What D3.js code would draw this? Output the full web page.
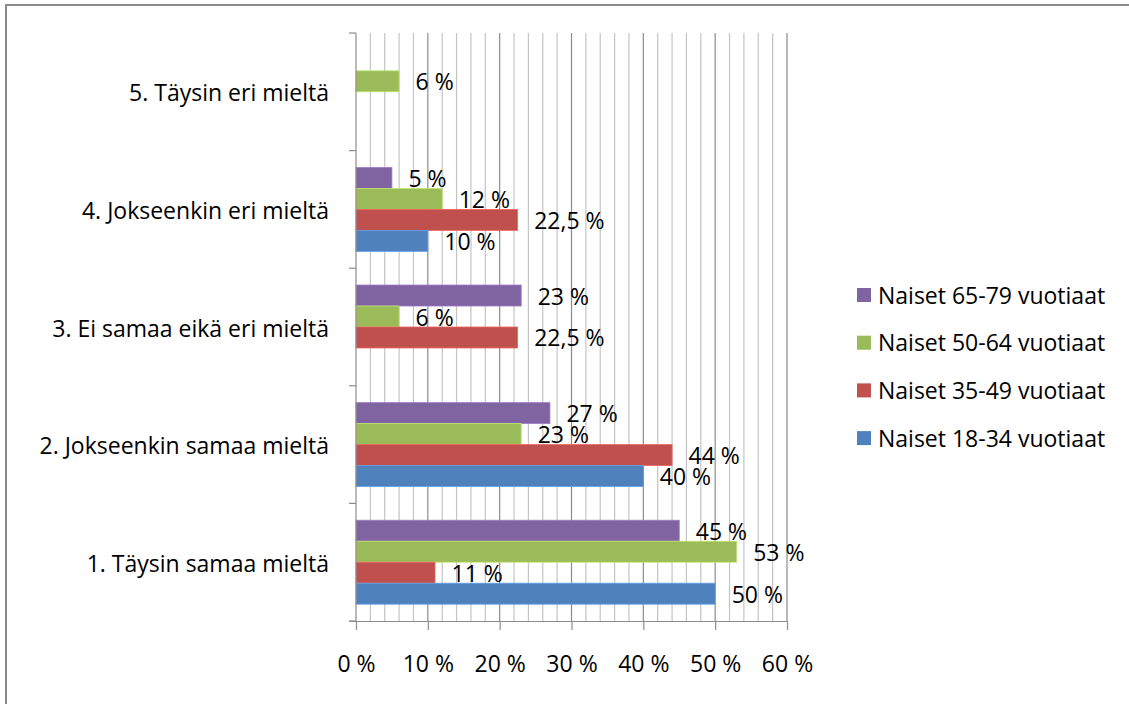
<!DOCTYPE html>
<html>
<head>
<meta charset="utf-8">
<script src="https://cdn.jsdelivr.net/npm/d3@7"></script>
<style>
  html, body { margin: 0; padding: 0; background: #fff; }
  svg { display: block; }
  text { font-family: "Open Sans", Lato, sans-serif; fill: #000; font-variant-ligatures: none; }
</style>
</head>
<body>
<svg id="chart" width="1129" height="704"></svg>
<script>
// Survey answers (top to bottom as drawn: 5 .. 1)
const categories = [
  "5. Täysin eri mieltä",
  "4. Jokseenkin eri mieltä",
  "3. Ei samaa eikä eri mieltä",
  "2. Jokseenkin samaa mieltä",
  "1. Täysin samaa mieltä"
];

// Series names, in legend / bar order (top bar first)
const seriesNames = [
  "Naiset 65-79 vuotiaat",
  "Naiset 50-64 vuotiaat",
  "Naiset 35-49 vuotiaat",
  "Naiset 18-34 vuotiaat"
];

// Percentages per category (same order as categories); null = no answer
const women65_79 = [null, 5, 23, 27, 45];
const women50_64 = [6, 12, 6, 23, 53];
const women35_49 = [null, 22.5, 22.5, 44, 11];
const women18_34 = [null, 10, null, 40, 50];

const xTicks = [0, 10, 20, 30, 40, 50, 60];

const seriesValues = [women65_79, women50_64, women35_49, women18_34];
const colors = ["#8064A2", "#9BBB59", "#C0504D", "#4F81BD"];

const svg = d3.select("#chart");
const fontSize = 23;

// Outer frame
svg.append("rect")
  .attr("x", 6).attr("y", 5)
  .attr("width", 1200).attr("height", 800)
  .attr("fill", "none").attr("stroke", "#8a8a8a").attr("stroke-width", 2);

const plot = { left: 356, right: 787, top: 33, bottom: 621 };

const x = d3.scaleLinear().domain([0, 60]).range([plot.left, plot.right]);
const y = d3.scaleBand().domain(categories).range([plot.top, plot.bottom]);
const bw = y.bandwidth();
const ySub = d3.scaleBand().domain(seriesNames).range([bw * 0.143, bw * 0.857]);

// Minor gridlines every 2 %
const minor = d3.range(2, 61, 2).filter(v => v % 10 !== 0);
svg.append("g").selectAll("line").data(minor).join("line")
  .attr("x1", d => x(d)).attr("x2", d => x(d))
  .attr("y1", plot.top).attr("y2", plot.bottom)
  .attr("stroke", "#c4c4c4").attr("stroke-width", 1.2);

// Major gridlines every 10 %
svg.append("g").selectAll("line").data(xTicks.slice(1)).join("line")
  .attr("x1", d => x(d)).attr("x2", d => x(d))
  .attr("y1", plot.top).attr("y2", plot.bottom)
  .attr("stroke", "#8c8c8c").attr("stroke-width", 1.2);

// Bars
const rows = [];
categories.forEach((c, ci) => {
  seriesNames.forEach((s, si) => {
    const v = seriesValues[si][ci];
    if (v !== null && v !== undefined) rows.push({ cat: c, series: s, value: v, color: colors[si] });
  });
});

svg.append("g").selectAll("rect").data(rows).join("rect")
  .attr("x", x(0))
  .attr("y", d => y(d.cat) + ySub(d.series))
  .attr("width", d => x(d.value) - x(0))
  .attr("height", ySub.bandwidth())
  .attr("fill", d => d.color)
  .attr("stroke", d => d3.color(d.color).brighter(0.6))
  .attr("stroke-width", 0.8);

// Value labels
const fmt = v => String(v).replace(".", ",") + " %";
svg.append("g").selectAll("text").data(rows).join("text")
  .attr("x", d => x(d.value) + 16.5)
  .attr("y", d => y(d.cat) + ySub(d.series) + ySub.bandwidth() / 2 + 9)
  .attr("font-size", fontSize)
  .text(d => fmt(d.value));

// Vertical (category) axis
svg.append("line")
  .attr("x1", plot.left).attr("x2", plot.left)
  .attr("y1", plot.top).attr("y2", plot.bottom)
  .attr("stroke", "#8c8c8c").attr("stroke-width", 1.2);
const bounds = categories.map(c => y(c)).concat([plot.bottom]);
svg.append("g").selectAll("line").data(bounds).join("line")
  .attr("x1", plot.left - 7).attr("x2", plot.left)
  .attr("y1", d => d).attr("y2", d => d)
  .attr("stroke", "#8c8c8c").attr("stroke-width", 1.2);

svg.append("g").selectAll("text").data(categories).join("text")
  .attr("x", 329)
  .attr("y", d => y(d) + bw / 2 + 9.5)
  .attr("text-anchor", "end")
  .attr("font-size", fontSize)
  .text(d => d);

// Horizontal (value) axis
const xAxis = d3.axisBottom(x)
  .tickValues(xTicks)
  .tickSize(9)
  .tickPadding(26)
  .tickFormat(d => d + " %");
const gx = svg.append("g").attr("transform", `translate(0,${plot.bottom})`).call(xAxis);
gx.select(".domain").attr("stroke", "#8c8c8c").attr("stroke-width", 1.2)
  .attr("d", `M${plot.left - 7},0.5H${plot.right}`);
gx.selectAll(".tick line").attr("stroke", "#8c8c8c").attr("stroke-width", 1.2);
gx.selectAll(".tick text")
  .attr("font-size", fontSize)
  .attr("font-family", "'Open Sans', Lato, sans-serif")
  .attr("fill", "#000");

// Legend
const legend = svg.append("g");
seriesNames.forEach((s, i) => {
  const cy = 295 + i * 47.7;
  legend.append("rect")
    .attr("x", 857).attr("y", cy - 7)
    .attr("width", 14).attr("height", 14)
    .attr("fill", colors[i]);
  legend.append("text")
    .attr("x", 878).attr("y", cy + 8.5)
    .attr("font-size", fontSize)
    .text(s);
});
</script>
</body>
</html>
